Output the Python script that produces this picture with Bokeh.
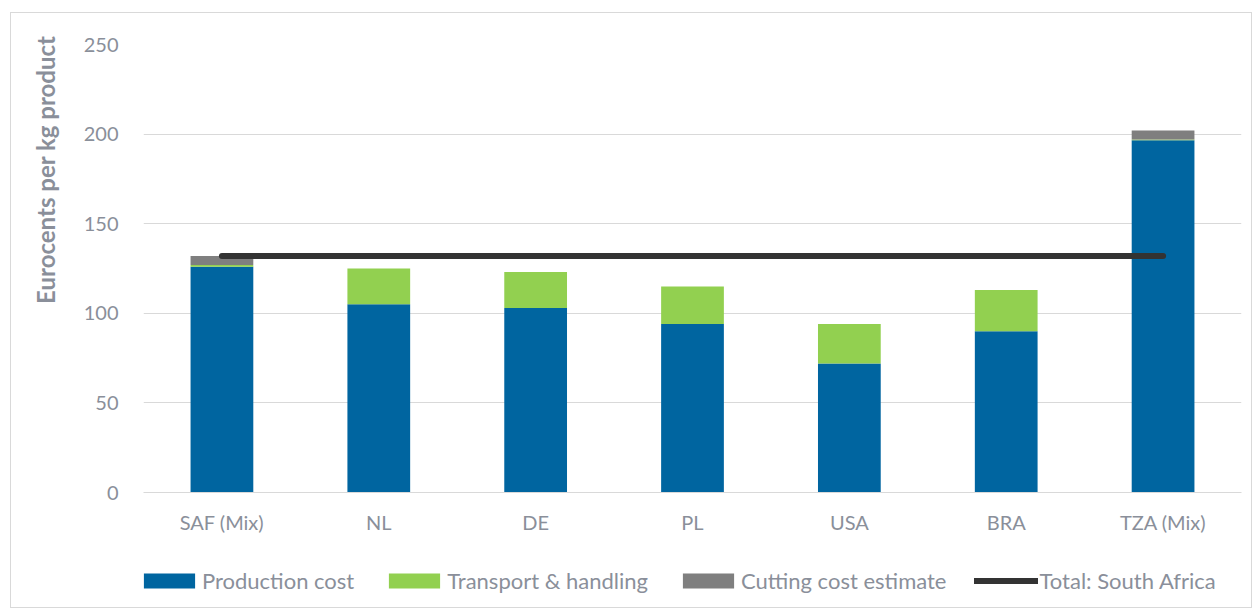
from bokeh.plotting import figure
from bokeh.layouts import column
from bokeh.models import (Legend, LegendItem, ColumnDataSource, FactorRange, Range1d,
                          SingleIntervalTicker, Title)
from bokeh.embed import file_html
from bokeh.resources import INLINE

categories = ["SAF (Mix)", "NL", "DE", "PL", "USA", "BRA", "TZA (Mix)"]
production = [126, 105, 103, 94, 72, 90, 196.5]
transport = [1, 20, 20, 21, 22, 23, 0.5]
cutting = [5, 0, 0, 0, 0, 0, 5]
total_sa = [132, 132]
total_x = ["SAF (Mix)", "TZA (Mix)"]

series = ["production", "transport", "cutting"]
labels = ["Production cost", "Transport & handling", "Cutting cost estimate"]
colors = ["#0065A0", "#92D050", "#7F7F7F"]
FONT = "Lato"
TXT = "#8A8F9A"

src = ColumnDataSource(dict(cat=categories, production=production, transport=transport, cutting=cutting))

# main chart
p = figure(x_range=FactorRange(*categories, range_padding=0.0), y_range=Range1d(0, 250),
           width=1240, height=527, output_backend="svg", toolbar_location=None,
           min_border_left=132, min_border_right=10, min_border_top=31, min_border_bottom=48)
p.outline_line_color = None

p.vbar_stack(series, x="cat", width=0.4, color=colors, source=src, line_color=None)
p.line(x=total_x, y=total_sa, line_color="#333333", line_width=6, line_cap="round")

p.xgrid.grid_line_color = None
p.ygrid.grid_line_color = "#D9D9D9"
p.ygrid.grid_line_width = 1.2
p.yaxis.ticker = SingleIntervalTicker(interval=50)

for ax in (p.xaxis, p.yaxis):
    ax.major_tick_line_color = None
    ax.minor_tick_line_color = None
    ax.major_label_text_font = FONT
    ax.major_label_text_color = TXT
    ax.major_label_text_font_size = "20px"
p.yaxis.axis_line_color = None
p.xaxis.axis_line_color = "#D9D9D9"
p.xaxis.axis_line_width = 1.2
p.xaxis.major_label_standoff = 11
p.yaxis.major_label_standoff = 19

ylab = Title(text="Eurocents per kg product", align="right", vertical_align="top",
             standoff=38, offset=-9, text_font=FONT, text_font_style="bold",
             text_font_size="24px", text_color=TXT)
p.add_layout(ylab, "left")

# legend strip
lg = figure(x_range=FactorRange(*categories), y_range=Range1d(-2, -1),
            width=1240, height=67, output_backend="svg", toolbar_location=None,
            x_axis_type=None, y_axis_type=None,
            min_border_left=0, min_border_right=0, min_border_top=0, min_border_bottom=0)
lg.outline_line_color = None
rs = lg.vbar_stack(series, x="cat", width=0.4, color=colors, source=src, line_color=None)
ln = lg.line(x=total_x, y=total_sa, line_color="#333333", line_width=6, line_cap="round")
for r in rs:
    r.visible = False
ln.visible = False

items = [LegendItem(label=labels[i], renderers=[rs[i]]) for i in range(3)]
items.append(LegendItem(label="Total: South Africa", renderers=[ln]))
legend = Legend(items=items, orientation="horizontal", location=(-6, 13),
                glyph_width=64, glyph_height=19, label_standoff=1, spacing=28,
                label_text_font=FONT, label_text_font_size="22px", label_text_color=TXT,
                border_line_color=None, background_fill_alpha=0, padding=0, margin=0,
                inactive_fill_alpha=0)
lg.add_layout(legend, "center")

layout = column(p, lg)
layout.styles = {"border": "1px solid #D9D9D9", "margin-left": "10px", "margin-top": "12px"}

open("out.html", "w").write(file_html(layout, INLINE))
